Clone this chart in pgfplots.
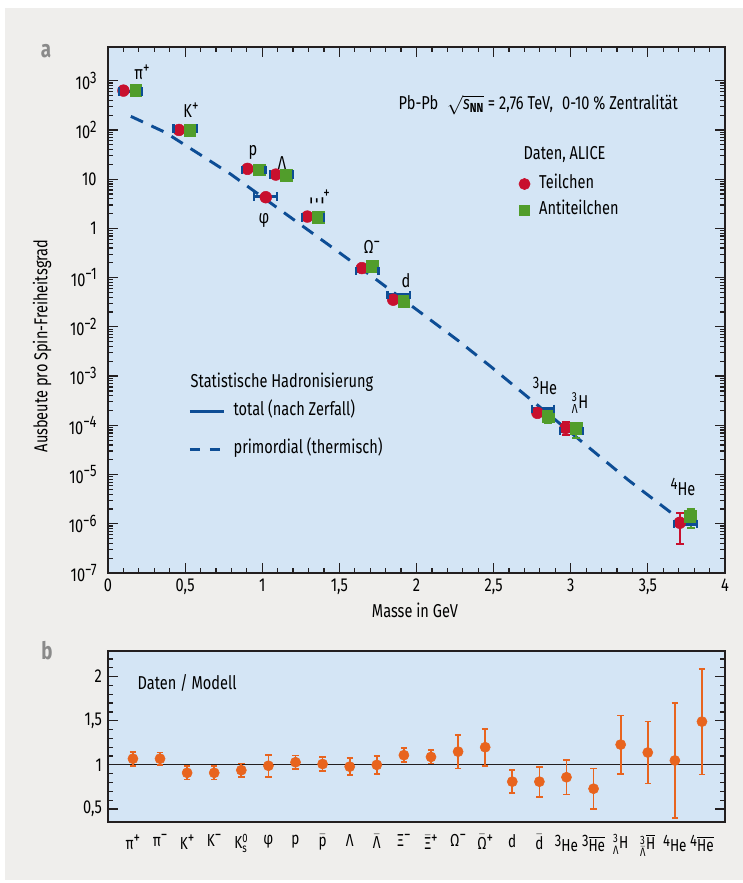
\documentclass[border=0pt]{standalone}
\usepackage{pgfplots}
\pgfplotsset{compat=1.18}
\usepackage{amsmath}
\usepackage{fontspec}
\setmainfont{Fira Sans}[FakeStretch=0.78]

\definecolor{bgout}{HTML}{EFEEEC}
\definecolor{bgax}{HTML}{D4E5F5}
\definecolor{pred}{HTML}{C8102E}
\definecolor{pgreen}{HTML}{519D2B}
\definecolor{mblue}{HTML}{0D4D95}
\definecolor{oran}{HTML}{E8641E}
\definecolor{axc}{HTML}{231F20}
\definecolor{lblgray}{HTML}{8A8A8A}

\newcommand{\su}[1]{\raisebox{0.34em}{\fontsize{12.5}{13}\selectfont #1}}

\begin{document}
\begin{tikzpicture}[font=\fontsize{14}{16}\selectfont]
\path[use as bounding box] (0,0) rectangle (557.25pt,662.25pt);
\fill[white] (0,0) rectangle (557.25pt,662.25pt);
\fill[bgout] (3.75pt,2.25pt) rectangle (557.25pt,656.25pt);

% ---------- panel a ----------
\begin{axis}[
  at={(81pt,232.5pt)}, anchor=south west, scale only axis,
  width=462.75pt, height=394.5pt,
  xmin=0, xmax=4, ymode=log, ymin=1e-7, ymax=4842,
  axis background/.style={fill=bgax},
  axis line style={axc, line width=1.4pt},
  tick align=inside,
  major tick length=7.5pt, minor tick length=4pt,
  every tick/.style={axc, line width=0.9pt},
  xtick={0,0.5,...,4}, minor x tick num=4,
  ytickten={-7,...,3},
  yticklabels={10\su{−7},10\su{−6},10\su{−5},10\su{−4},10\su{−3},10\su{−2},10\su{−1},1,10,10\su{2},10\su{3}},
  yticklabel style={xshift=-5pt},
  /pgf/number format/use comma,
  /pgf/number format/assume math mode=true,
  xticklabel style={yshift=-1pt},
  unbounded coords=jump,
  legend cell align=left,
  legend style={draw=none, fill=none, inner sep=0pt, at={(0.1297,0.2713)}, anchor=west,
    row sep=15.5pt, column sep=5.8pt,
    nodes={inner sep=0pt, text height=10pt, text depth=3pt}},
  legend image code/.code={\draw[#1] (0pt,0pt) -- (26pt,0pt);},
]
\addlegendimage{mblue, line width=2.2pt}
\addlegendentry{total (nach Zerfall)}
\addlegendimage{mblue, line width=2.2pt, dash pattern=on 7.5pt off 7.5pt}
\addlegendentry{primordial (thermisch)}

% primordial (thermal) yields
\addplot[mblue, line width=2.2pt, dash pattern=on 10pt off 7pt, forget plot] coordinates {
 (0.148,189) (0.371,89.3) (0.793,12.8) (1.466,0.385) (1.747,0.0877)
 (2.268,0.00532) (2.485,0.00153) (3.374,7.69e-6) (3.677,1.45e-6)
};
% particles
\addplot[only marks, mark=*, mark size=4.4pt, color=pred, mark options={draw=none, fill=pred}, forget plot,
  error bars/.cd, y dir=both, y explicit,
  error bar style={pred, line width=1.5pt}, error mark options={pred, line width=1.5pt, mark size=3pt, rotate=90}]
coordinates {
 (0.10,630) (0.46,100) (0.904,16.2) (1.088,12.4) (1.023,4.3) (1.292,1.74)
 (1.646,0.156) (1.849,0.0356) (2.784,1.79e-4)
 (2.966,8.85e-5) += (0,3e-5) -= (0,2.4e-5)
 (3.707,1.05e-6) += (0,0.57e-6) -= (0,0.66e-6)
};
% antiparticles
\addplot[only marks, mark=square*, mark size=4.4pt, color=pgreen, mark options={draw=none, fill=pgreen}, forget plot,
  error bars/.cd, y dir=both, y explicit,
  error bar style={pgreen, line width=1.5pt}, error mark options={pgreen, line width=1.5pt, mark size=3pt, rotate=90}]
coordinates {
 (0.18,630) (0.53,100) (0.98,15.5) (1.158,12.2) (1.364,1.7)
 (1.715,0.171) (1.917,0.0335)
 (2.853,1.53e-4) += (0,0.35e-4) -= (0,0.4e-4)
 (3.037,8.6e-5) += (0,2.7e-5) -= (0,3e-5)
 (3.777,1.44e-6) += (0,0.56e-6) -= (0,0.61e-6)
};
% model total (after decays): one short segment per particle
\addplot[mblue, line width=2.4pt, forget plot, mark=|, mark size=3.2pt, mark options={solid, line width=1.6pt}]
coordinates {
 (0.071,600) (0.219,600) (nan,nan)
 (0.425,108) (0.577,108) (nan,nan)
 (0.869,15.4) (1.021,15.4) (nan,nan)
 (1.049,12.4) (1.199,12.4) (nan,nan)
 (0.949,4.4) (1.097,4.4) (nan,nan)
 (1.255,1.65) (1.401,1.65) (nan,nan)
 (1.608,0.135) (1.754,0.135) (nan,nan)
 (1.812,0.0442) (1.960,0.0442) (nan,nan)
 (2.749,2.16e-4) (2.893,2.16e-4) (nan,nan)
 (2.929,7.6e-5) (3.079,7.6e-5) (nan,nan)
 (3.670,9.9e-7) (3.818,9.9e-7)
};

% particle labels
\node at (axis cs:0.220,1500) {π\su{+}};
\node at (axis cs:0.538,254) {K\su{+}};
\node at (axis cs:0.940,35.6) {p};
\node at (axis cs:1.128,21.3) {Λ};
\node at (axis cs:1.011,1.48) {φ};
\node at (axis cs:1.375,4.3) {\rotatebox{90}{Ξ}\su{+}};
\node at (axis cs:1.711,0.419) {Ω\su{−}};
\node at (axis cs:1.932,0.0853) {d};
\node at (axis cs:2.833,6.28e-4) {\su{3}He};
\node at (axis cs:3.060,2.84e-4) {$^{\text{3}}_{\text{Λ}}$H};
\node at (axis cs:3.728,5.58e-6) {\su{4}He};

\node[anchor=west] at (rel axis cs:0.4635,0.8897) {Pb-Pb\; $\sqrt{\textit{s}_{\textbf{NN}}}$ = 2,76 TeV,\; 0-10 \% Zentralität};
\node[anchor=west] at (rel axis cs:0.666,0.7947) {Daten, ALICE};
\node[anchor=west] at (rel axis cs:0.1264,0.3618) {Statistische Hadronisierung};
\end{axis}

% second legend (data)
\begin{axis}[
  at={(81pt,232.5pt)}, anchor=south west, scale only axis,
  width=462.75pt, height=394.5pt, hide axis,
  xmin=0, xmax=4, ymode=log, ymin=1e-7, ymax=4842,
  legend cell align=left,
  legend style={draw=none, fill=none, inner sep=0pt, at={(0.6656,0.7148)}, anchor=west,
    row sep=6.5pt, column sep=6.8pt,
    nodes={inner sep=0pt, text height=10pt, text depth=3pt}},
  legend image code/.code={\draw[mark repeat=2,mark phase=2,#1] plot coordinates {(0pt,0pt) (6pt,0pt) (12pt,0pt)};},
]
\addlegendimage{only marks, mark=*, mark size=4.2pt, pred, mark options={draw=none, fill=pred}}
\addlegendentry{Teilchen}
\addlegendimage{only marks, mark=square*, mark size=3.6pt, pgreen, mark options={draw=none, fill=pgreen}}
\addlegendentry{Antiteilchen}
\end{axis}

% ---------- panel b ----------
\begin{axis}[
  at={(81pt,45.75pt)}, anchor=south west, scale only axis,
  width=462.75pt, height=128.25pt,
  xmin=-0.92, xmax=21.85, ymin=0.353, ymax=2.29,
  axis background/.style={fill=bgax},
  axis line style={axc, line width=1.4pt},
  tick align=inside,
  major tick length=7.5pt, minor tick length=4pt,
  every tick/.style={axc, line width=0.9pt},
  ytick={0.5,1,1.5,2},
  yticklabels={{0,5},1,{1,5},2},
  minor ytick={0.6,0.7,0.8,0.9,1.1,1.2,1.3,1.4,1.6,1.7,1.8,1.9,2.1,2.2},
  yticklabel style={xshift=-1pt},
  xtick={0,...,21},
  major x tick style={draw=none},
  xticklabels={π\su{+},π\su{−},K\su{+},K\su{−},K$^{\text{0}}_{\text{s}}$,φ,p,$\bar{\text{p}}$,Λ,$\bar{\text{Λ}}$,
    Ξ\su{−},$\bar{\text{Ξ}}$\su{+},Ω\su{−},$\bar{\text{Ω}}$\su{+},d,$\bar{\text{d}}$,
    \su{3}He,\su{3}$\overline{\text{He}}$,$^{\text{3}}_{\text{Λ}}$H,$^{\text{3}}_{\bar{\text{Λ}}}\overline{\text{H}}$,
    \su{4}He,\su{4}$\overline{\text{He}}$},
  xticklabel style={anchor=north, yshift=-6pt, font=\fontsize{13}{15}\selectfont},
]
\addplot[axc, line width=0.9pt, forget plot] coordinates {(-0.92,1) (21.85,1)};
\addplot[only marks, mark=*, mark size=3.8pt, color=oran, mark options={draw=none, fill=oran},
  error bars/.cd, y dir=both, y explicit,
  error bar style={oran, line width=1.3pt}, error mark options={oran, line width=1.3pt, mark size=2.4pt, rotate=90}]
coordinates {
 (0,1.07) +- (0,0.08)  (1,1.07) +- (0,0.07)  (2,0.91) +- (0,0.075) (3,0.91) +- (0,0.075)
 (4,0.94) +- (0,0.075) (5,0.99) +- (0,0.125) (6,1.03) +- (0,0.075) (7,1.01) +- (0,0.08)
 (8,0.98) +- (0,0.095) (9,1.00) +- (0,0.10)  (10,1.11) +- (0,0.08) (11,1.09) +- (0,0.075)
 (12,1.15) +- (0,0.19) (13,1.20) +- (0,0.21) (14,0.81) +- (0,0.13) (15,0.81) +- (0,0.17)
 (16,0.86) +- (0,0.195) (17,0.73) +- (0,0.23) (18,1.23) +- (0,0.33) (19,1.14) +- (0,0.35)
 (20,1.05) +- (0,0.65) (21,1.49) +- (0,0.60)
};
\node[anchor=west] at (rel axis cs:0.0405,0.813) {Daten / Modell};
\end{axis}

% panel letters and axis titles
\node[anchor=base, font=\fontsize{18}{18}\selectfont\bfseries, text=lblgray] at (34.5pt,618.75pt) {a};
\node[anchor=base, font=\fontsize{18}{18}\selectfont\bfseries, text=lblgray] at (35.25pt,167.25pt) {b};
\node[rotate=90] at (31.5pt,402.75pt) {Ausbeute pro Spin-Freiheitsgrad};
\node at (311.25pt,204.75pt) {Masse in GeV};
\end{tikzpicture}
\end{document}
